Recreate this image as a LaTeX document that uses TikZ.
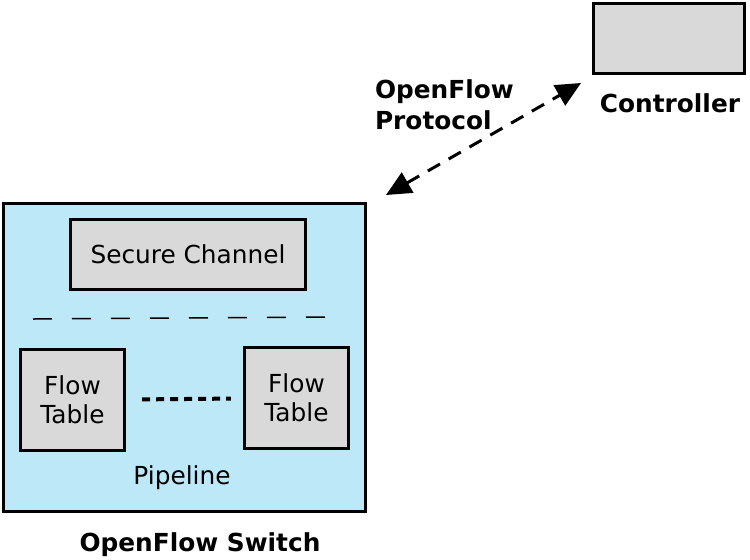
\documentclass[tikz,border=0pt]{standalone}
\usepackage{fontspec}
\setmainfont{DejaVu Sans}
\usepackage{xcolor}
\usetikzlibrary{arrows.meta}

\definecolor{boxgray}{RGB}{217,217,217}
\definecolor{switchblue}{RGB}{189,232,247}

\begin{document}
\begin{tikzpicture}[x=0.5pt, y=-0.5pt,
		every node/.style = {font=\fontsize{12.4}{14.5}\selectfont},
		box/.style = {draw, line width=1.6pt, fill=boxgray, inner sep=0pt, align=center},
		lbl/.style = {font=\fontsize{12.4}{15.5}\selectfont\bfseries, align=left}]
			\useasboundingbox (0,0) rectangle (750,559);

			\node[box, fill=switchblue, minimum width=181pt, minimum height=154pt] (switch) at (184.5,357.5) {};
			\node[lbl] (switchlbl) at (200,545) {OpenFlow Switch};

			\node[box, minimum width=117.5pt, minimum height=35pt] (secchan) at (188,254.5) {Secure Channel};
			\node[box, minimum width=52pt, minimum height=50.5pt] (ftA) at (72.5,400) {Flow\\Table};
			\node[box, minimum width=52pt, minimum height=50.5pt] (ftB) at (296.5,398) {Flow\\Table};
			\node (pipeline) at (182,478) {Pipeline};

			\draw[line width=2pt, dash pattern=on 4pt off 3pt, shorten <=8pt, shorten >=6pt] (ftA) -- (ftB);

			\coordinate (sepL) at (33,319);
			\coordinate (sepR) at (325,317);
			\draw[line width=0.75pt, dash pattern=on 9.5pt off 10pt] (sepL) -- (sepR);

			\node[box, minimum width=75.5pt, minimum height=35pt] (controller) at (669,38.5) {};
			\node[lbl] (ctrllbl) at (670,103) {Controller};
			\node[lbl, anchor=west] (protolbl) at (368,105) {OpenFlow\\Protocol};

			\coordinate (protoA) at (386,195);
			\coordinate (protoB) at (581,83);
			\draw[line width=1.5pt, dash pattern=on 7pt off 5pt, {Triangle[length=12.5pt, width=11.5pt]}-{Triangle[length=12.5pt, width=11.5pt]}] (protoA) -- (protoB);
		\end{tikzpicture}
\end{document}
